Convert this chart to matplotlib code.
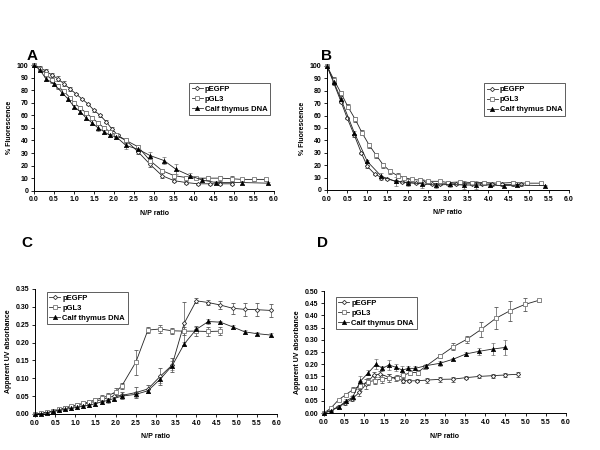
import matplotlib
matplotlib.use('Agg')
import matplotlib.pyplot as plt
from matplotlib import ticker
from matplotlib.lines import Line2D
import numpy as np

plt.rcParams.update({'font.family': ['Liberation Sans', 'DejaVu Sans'],
                     'font.weight': 'bold', 'font.size': 5,
                     'axes.linewidth': 0.7})

series_names = ['pEGFP', 'pGL3', 'Calf thymus DNA']

# panel A - % fluorescence
a_egfp_x = [0, 0.15, 0.3, 0.45, 0.6, 0.75, 0.9, 1.05, 1.2, 1.35, 1.5, 1.65, 1.8, 1.95, 2.1, 2.3, 2.6, 2.9, 3.2, 3.5, 3.8, 4.1, 4.4, 4.65, 4.95]
a_egfp_y = [100, 98, 95, 92, 89, 85, 81, 77, 73, 69, 64, 60, 55, 49, 44, 40, 31, 21, 12, 8, 6.5, 5.5, 5.5, 5.5, 5.5]
a_egfp_e = [0, 1, 1.5, 1.5, 2, 2, 1.5, 1, 1, 1, 1, 1, 1, 1.5, 1.5, 2, 2, 2.5, 2, 1, 1, 1, 1, 1, 1]
a_gl3_x = [0, 0.15, 0.3, 0.45, 0.6, 0.75, 0.9, 1.0, 1.15, 1.3, 1.45, 1.6, 1.75, 1.9, 2.05, 2.3, 2.6, 2.9, 3.2, 3.5, 3.8, 4.05, 4.35, 4.65, 4.95, 5.2, 5.5, 5.8]
a_gl3_y = [100, 97, 93, 88, 83, 79, 74, 70, 66, 62, 58, 54, 50, 47, 44, 40, 35, 24, 16, 12, 10.5, 10, 10, 10, 9.5, 9, 9, 9]
a_gl3_e = [0, 1, 1.5, 2, 2, 1.5, 1.5, 1.5, 1.5, 1.5, 1.5, 1.5, 1.5, 1.5, 1.5, 1.5, 1.5, 2, 1.5, 1, 1, 1, 1.5, 2, 2, 1.5, 1.5, 1.5]
a_ct_x = [0, 0.15, 0.3, 0.5, 0.7, 0.85, 1.0, 1.15, 1.3, 1.45, 1.6, 1.75, 1.9, 2.05, 2.3, 2.6, 2.9, 3.25, 3.55, 3.9, 4.2, 4.55, 5.2, 5.85]
a_ct_y = [100, 96, 89, 85, 78, 73, 67, 63, 58, 54, 50, 47, 44, 43, 36, 33, 28, 24, 17, 12, 8.5, 6.5, 6.5, 6]
a_ct_e = [0, 1, 1.5, 2, 2, 1.5, 1.5, 1.5, 2, 2, 2.5, 2, 1.5, 1.5, 2.5, 2.5, 2.5, 2.5, 4, 2, 1.5, 1.5, 1, 1]

# panel B - % fluorescence
b_egfp_x = [0, 0.17, 0.35, 0.5, 0.68, 0.85, 1.0, 1.18, 1.35, 1.5, 1.7, 1.85, 2.0, 2.2, 2.4, 2.6, 2.8, 3.0, 3.2, 3.4, 3.6, 3.85, 4.1, 4.35, 4.6, 4.8]
b_egfp_y = [100, 86, 71, 58, 44, 30, 19, 13, 10, 9, 7, 6.5, 6, 5.5, 5.5, 5, 5, 5, 5, 5, 5, 5, 4.5, 4.5, 4.5, 4.5]
b_egfp_e = [0, 1, 1, 1, 1.5, 1, 1, 1, 1, 1, 1, 1, 1, 1, 1, 1, 1, 1, 1, 1, 1, 1, 1, 1, 1, 1]
b_gl3_x = [0, 0.17, 0.35, 0.52, 0.7, 0.87, 1.05, 1.22, 1.4, 1.57, 1.75, 1.92, 2.1, 2.3, 2.5, 2.8, 3.0, 3.3, 3.6, 3.9, 4.25, 4.6, 4.95, 5.3]
b_gl3_y = [100, 89, 78, 67, 57, 46, 36, 28, 20, 15, 11.5, 10, 8.5, 8, 7, 7, 6, 6.5, 6, 6, 5.5, 6, 5.5, 5.5]
b_gl3_e = [0, 2, 2, 2, 2, 2, 2, 2, 2, 2, 2, 1.5, 1.5, 1.5, 1, 1, 1, 1, 1, 1, 1, 1, 1, 1]
b_ct_x = [0, 0.17, 0.35, 0.68, 1.0, 1.35, 1.7, 2.0, 2.35, 2.7, 3.05, 3.4, 3.7, 4.05, 4.4, 4.7, 5.4]
b_ct_y = [100, 87, 73, 46, 23, 11, 7, 6, 5, 4, 4.5, 4, 4, 4, 3.5, 4, 3.5]
b_ct_e = [0, 1.5, 1.5, 1.5, 1.5, 3, 3.5, 2.5, 3.5, 2, 2, 3, 3, 1.5, 1, 1, 0.5]

# panel C - apparent UV absorbance
c_egfp_x = [0, 0.15, 0.3, 0.45, 0.6, 0.75, 0.9, 1.05, 1.2, 1.35, 1.5, 1.65, 1.8, 1.95, 2.15, 2.5, 2.8, 3.1, 3.4, 3.7, 4.0, 4.3, 4.6, 4.9, 5.2, 5.5, 5.85]
c_egfp_y = [0, 0.002, 0.005, 0.008, 0.012, 0.016, 0.02, 0.024, 0.027, 0.031, 0.036, 0.04, 0.045, 0.05, 0.052, 0.06, 0.07, 0.105, 0.137, 0.254, 0.317, 0.312, 0.305, 0.296, 0.293, 0.292, 0.29]
c_egfp_e = [0, 0.002, 0.002, 0.003, 0.003, 0.004, 0.004, 0.005, 0.005, 0.006, 0.006, 0.007, 0.008, 0.01, 0.01, 0.015, 0.012, 0.025, 0.02, 0.06, 0.007, 0.008, 0.01, 0.015, 0.018, 0.018, 0.018]
c_gl3_x = [0, 0.15, 0.3, 0.45, 0.6, 0.75, 0.9, 1.05, 1.2, 1.35, 1.5, 1.65, 1.8, 2.0, 2.15, 2.5, 2.8, 3.1, 3.4, 3.7, 4.0, 4.3, 4.6]
c_gl3_y = [0, 0.002, 0.005, 0.009, 0.013, 0.018, 0.022, 0.026, 0.03, 0.034, 0.04, 0.045, 0.05, 0.062, 0.078, 0.145, 0.235, 0.238, 0.233, 0.232, 0.232, 0.231, 0.232]
c_gl3_e = [0, 0.002, 0.002, 0.003, 0.003, 0.004, 0.004, 0.005, 0.005, 0.006, 0.006, 0.008, 0.01, 0.012, 0.008, 0.035, 0.008, 0.01, 0.008, 0.012, 0.015, 0.012, 0.012]
c_ct_x = [0, 0.15, 0.3, 0.45, 0.6, 0.75, 0.9, 1.05, 1.2, 1.35, 1.5, 1.65, 1.8, 1.95, 2.15, 2.5, 2.8, 3.1, 3.4, 3.7, 4.0, 4.3, 4.6, 4.9, 5.2, 5.5, 5.85]
c_ct_y = [0, 0.001, 0.004, 0.007, 0.01, 0.013, 0.016, 0.019, 0.022, 0.025, 0.029, 0.034, 0.038, 0.043, 0.05, 0.055, 0.065, 0.097, 0.135, 0.196, 0.237, 0.259, 0.257, 0.244, 0.23, 0.225, 0.221]
c_ct_e = [0, 0.002, 0.002, 0.003, 0.003, 0.004, 0.004, 0.004, 0.005, 0.005, 0.006, 0.006, 0.007, 0.007, 0.006, 0.007, 0.006, 0.01, 0.012, 0.006, 0.006, 0.006, 0.004, 0.006, 0.006, 0.005, 0.006]

# panel D - apparent UV absorbance
d_egfp_x = [0, 0.17, 0.35, 0.53, 0.7, 0.88, 1.05, 1.23, 1.4, 1.6, 1.78, 1.95, 2.12, 2.3, 2.55, 2.88, 3.21, 3.52, 3.85, 4.18, 4.5, 4.82]
d_egfp_y = [0, 0.012, 0.025, 0.04, 0.058, 0.085, 0.12, 0.155, 0.16, 0.147, 0.143, 0.133, 0.132, 0.132, 0.135, 0.138, 0.139, 0.145, 0.15, 0.153, 0.156, 0.159]
d_egfp_e = [0, 0.005, 0.005, 0.008, 0.01, 0.015, 0.02, 0.015, 0.012, 0.012, 0.01, 0.008, 0.006, 0.006, 0.01, 0.01, 0.01, 0.005, 0.005, 0.008, 0.01, 0.01]
d_gl3_x = [0, 0.17, 0.36, 0.54, 0.71, 0.89, 1.08, 1.26, 1.43, 1.62, 1.8, 1.97, 2.14, 2.32, 2.51, 2.88, 3.21, 3.54, 3.9, 4.26, 4.61, 4.98, 5.33]
d_gl3_y = [0, 0.02, 0.054, 0.075, 0.095, 0.112, 0.128, 0.133, 0.14, 0.143, 0.145, 0.154, 0.166, 0.166, 0.19, 0.234, 0.272, 0.302, 0.343, 0.388, 0.419, 0.445, 0.462]
d_gl3_e = [0, 0.005, 0.005, 0.005, 0.01, 0.02, 0.015, 0.015, 0.015, 0.015, 0.01, 0.01, 0.01, 0.01, 0.008, 0.008, 0.015, 0.015, 0.03, 0.045, 0.04, 0.025, 0.005]
d_ct_x = [0, 0.17, 0.36, 0.54, 0.71, 0.9, 1.1, 1.29, 1.45, 1.61, 1.79, 1.94, 2.09, 2.26, 2.53, 2.88, 3.21, 3.52, 3.85, 4.18, 4.5]
d_ct_y = [0, 0.008, 0.025, 0.048, 0.065, 0.13, 0.165, 0.2, 0.183, 0.197, 0.187, 0.176, 0.183, 0.183, 0.194, 0.204, 0.221, 0.242, 0.253, 0.262, 0.269]
d_ct_e = [0, 0.005, 0.005, 0.008, 0.01, 0.02, 0.01, 0.02, 0.01, 0.02, 0.015, 0.015, 0.008, 0.008, 0.005, 0.01, 0.005, 0.01, 0.015, 0.025, 0.03]

styles = [dict(marker='D', ms=2.2, mfc='white', mec='#333333', mew=0.6),
          dict(marker='s', ms=2.8, mfc='white', mec='#777777', mew=0.6),
          dict(marker='^', ms=3.2, mfc='black', mec='black', mew=0.4)]


def draw_panel(ax, data, ymax, ystep, yfmt, ylabel, leg_loc, leg_anchor):
    for (x, y, e), st in zip(data, styles):
        ax.errorbar(x, y, yerr=e, color='#222222', lw=0.6, elinewidth=0.5,
                    ecolor='#555555', capsize=1.2, capthick=0.5, clip_on=False, **st)
    ax.set_xlim(0, 6.0)
    ax.set_ylim(0, ymax)
    ax.xaxis.set_major_locator(ticker.MultipleLocator(0.5))
    ax.xaxis.set_major_formatter(ticker.FormatStrFormatter('%.1f'))
    ax.yaxis.set_major_locator(ticker.MultipleLocator(ystep))
    ax.yaxis.set_major_formatter(ticker.FormatStrFormatter(yfmt))
    ax.spines['top'].set_visible(False)
    ax.spines['right'].set_visible(False)
    ax.tick_params(direction='out', length=2, width=0.6, labelsize=5, pad=2)
    ax.set_xlabel('N/P ratio', fontsize=5, fontweight='bold', labelpad=5)
    ax.set_ylabel(ylabel, fontsize=5, fontweight='bold', labelpad=3)
    handles = [Line2D([], [], color='#333333', lw=0.6, **st) for st in styles]
    leg = ax.legend(handles, series_names, loc=leg_loc, bbox_to_anchor=leg_anchor,
                    fontsize=5.5, frameon=True, fancybox=False, framealpha=1,
                    edgecolor='#444444', handlelength=1.4, handletextpad=0.3,
                    borderpad=0.35, labelspacing=0.35)
    leg.get_frame().set_linewidth(0.6)


fig = plt.figure(figsize=(6, 4.5), dpi=100)
ax_a = fig.add_axes([0.0567, 0.5762, 0.4, 0.2793])
ax_b = fig.add_axes([0.545, 0.5778, 0.4033, 0.2756])
ax_c = fig.add_axes([0.0583, 0.08, 0.4033, 0.2778])
ax_d = fig.add_axes([0.54, 0.0822, 0.4033, 0.2711])

draw_panel(ax_a, [(a_egfp_x, a_egfp_y, a_egfp_e), (a_gl3_x, a_gl3_y, a_gl3_e), (a_ct_x, a_ct_y, a_ct_e)],
           100, 10, '%d', '% Fluorescence', 'upper right', (1.0, 0.89))
draw_panel(ax_b, [(b_egfp_x, b_egfp_y, b_egfp_e), (b_gl3_x, b_gl3_y, b_gl3_e), (b_ct_x, b_ct_y, b_ct_e)],
           100, 10, '%d', '% Fluorescence', 'upper right', (1.0, 0.89))
draw_panel(ax_c, [(c_egfp_x, c_egfp_y, c_egfp_e), (c_gl3_x, c_gl3_y, c_gl3_e), (c_ct_x, c_ct_y, c_ct_e)],
           0.35, 0.05, '%.2f', 'Apparent UV absorbance', 'upper left', (0.033, 1.01))
draw_panel(ax_d, [(d_egfp_x, d_egfp_y, d_egfp_e), (d_gl3_x, d_gl3_y, d_gl3_e), (d_ct_x, d_ct_y, d_ct_e)],
           0.50, 0.05, '%.2f', 'Apparent UV absorbance', 'upper left', (0.033, 0.985))

for lab, xx, yy in [('A', 0.045, 0.875), ('B', 0.535, 0.875), ('C', 0.035, 0.46), ('D', 0.528, 0.46)]:
    fig.text(xx, yy, lab, fontsize=11, fontweight='bold', ha='left', va='center')

fig.savefig('out.png', dpi=100, facecolor='white')
